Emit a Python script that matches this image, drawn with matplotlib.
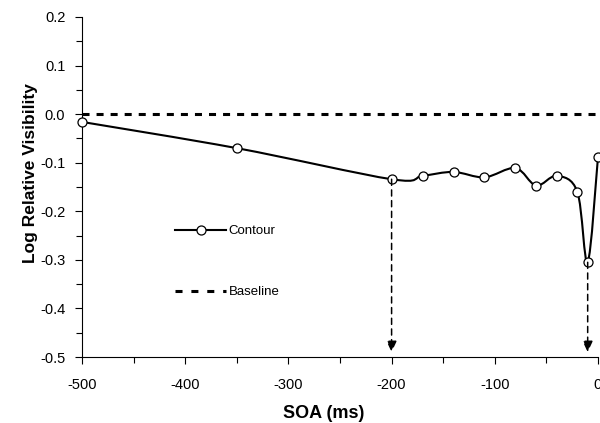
import matplotlib
matplotlib.use("Agg")
import matplotlib.pyplot as plt
import numpy as np
from matplotlib.path import Path
from matplotlib.patches import PathPatch
from matplotlib.lines import Line2D

plt.rcParams["axes.unicode_minus"] = False
plt.rcParams["font.family"] = ["Liberation Sans"]

# data
soa = [-500, -350, -200, -170, -140, -110, -80, -60, -40, -20, -10, 0]
contour = [-0.016, -0.070, -0.134, -0.127, -0.119, -0.130, -0.111,
           -0.147, -0.127, -0.160, -0.305, -0.088]
baseline_x = [-500, 0]
baseline_y = [0.0, 0.0]
arrow_x = [-200, -10]

xticks = [-500, -400, -300, -200, -100, 0]
xtick_labels = ["-500", "-400", "-300", "-200", "-100", "0"]
yticks = [0.2, 0.1, 0.0, -0.1, -0.2, -0.3, -0.4, -0.5]
ytick_labels = ["0.2", "0.1", "0.0", "-0.1", "-0.2", "-0.3", "-0.4", "-0.5"]


def smooth_path(xs, ys):
    # excel-like smoothed line (catmull-rom as bezier)
    pts = np.column_stack([xs, ys]).astype(float)
    n = len(pts)
    verts = [pts[0]]
    codes = [Path.MOVETO]
    for i in range(n - 1):
        p0 = pts[max(i - 1, 0)]
        p1 = pts[i]
        p2 = pts[i + 1]
        p3 = pts[min(i + 2, n - 1)]
        verts += [p1 + (p2 - p0) / 6, p2 - (p3 - p1) / 6, p2]
        codes += [Path.CURVE4] * 3
    return Path(verts, codes)


fig = plt.figure(figsize=(6, 4.23), dpi=100)
ax = fig.add_axes([82 / 600, 66 / 423, 516 / 600, 340 / 423])

# baseline
ax.plot(baseline_x, baseline_y, color="black", lw=2.2, dashes=(2.3, 2.3),
        solid_capstyle="butt", dash_capstyle="butt", zorder=2, clip_on=False)

# contour curve + markers
ax.add_patch(PathPatch(smooth_path(soa, contour), facecolor="none",
                       edgecolor="black", lw=1.5, zorder=2, clip_on=False))
ax.plot(soa, contour, ls="none", marker="o", ms=6.5, mfc="white",
        mec="black", mew=0.9, zorder=3, clip_on=False)

# arrows
for xa in arrow_x:
    ya = contour[soa.index(xa)]
    ax.annotate("", xy=(xa, -0.49), xytext=(xa, ya),
                arrowprops=dict(arrowstyle="-|>,head_length=0.65,head_width=0.3",
                                lw=1.1, ls=(0, (4, 3)), color="black",
                                shrinkA=0, shrinkB=0, mutation_scale=10),
                zorder=4)

ax.set_xlim(-500, 0)
ax.set_ylim(-0.5, 0.2)
ax.set_xticks(xticks, xtick_labels)
ax.set_yticks(yticks, ytick_labels)
ax.set_xticks(np.arange(-450, 0, 100), minor=True)
ax.set_yticks(np.arange(-0.45, 0.2, 0.1), minor=True)

for s in ["top", "right"]:
    ax.spines[s].set_visible(False)
for s in ["left", "bottom"]:
    ax.spines[s].set_linewidth(0.8)

ax.tick_params(axis="both", which="major", direction="out", length=5,
               width=0.8, labelsize=10.5)
ax.tick_params(axis="both", which="minor", direction="out", length=4, width=0.8)
ax.tick_params(axis="x", which="major", pad=10)
ax.tick_params(axis="y", which="major", pad=7)

ax.set_xlabel("SOA (ms)", fontsize=13, fontweight="bold")
ax.set_ylabel("Log Relative Visibility", fontsize=12.5, fontweight="bold")
ax.xaxis.set_label_coords(0.469, -0.14)
ax.yaxis.set_label_coords(-0.085, 0.541)

handles = [
    Line2D([], [], color="black", lw=1.5, marker="o", ms=6.5, mfc="white",
           mec="black", mew=0.9),
    Line2D([], [], color="black", lw=2.2, dashes=(2.3, 2.9)),
]
ax.legend(handles, ["Contour", "Baseline"], loc="upper left",
          bbox_to_anchor=(175 / 600, 1 - 225 / 423),
          bbox_transform=fig.transFigure, frameon=False, fontsize=9.5,
          borderpad=0, borderaxespad=0, handlelength=3.9, handletextpad=0.15,
          labelspacing=3.7, markerfirst=True)

fig.savefig("out.png", dpi=100)
